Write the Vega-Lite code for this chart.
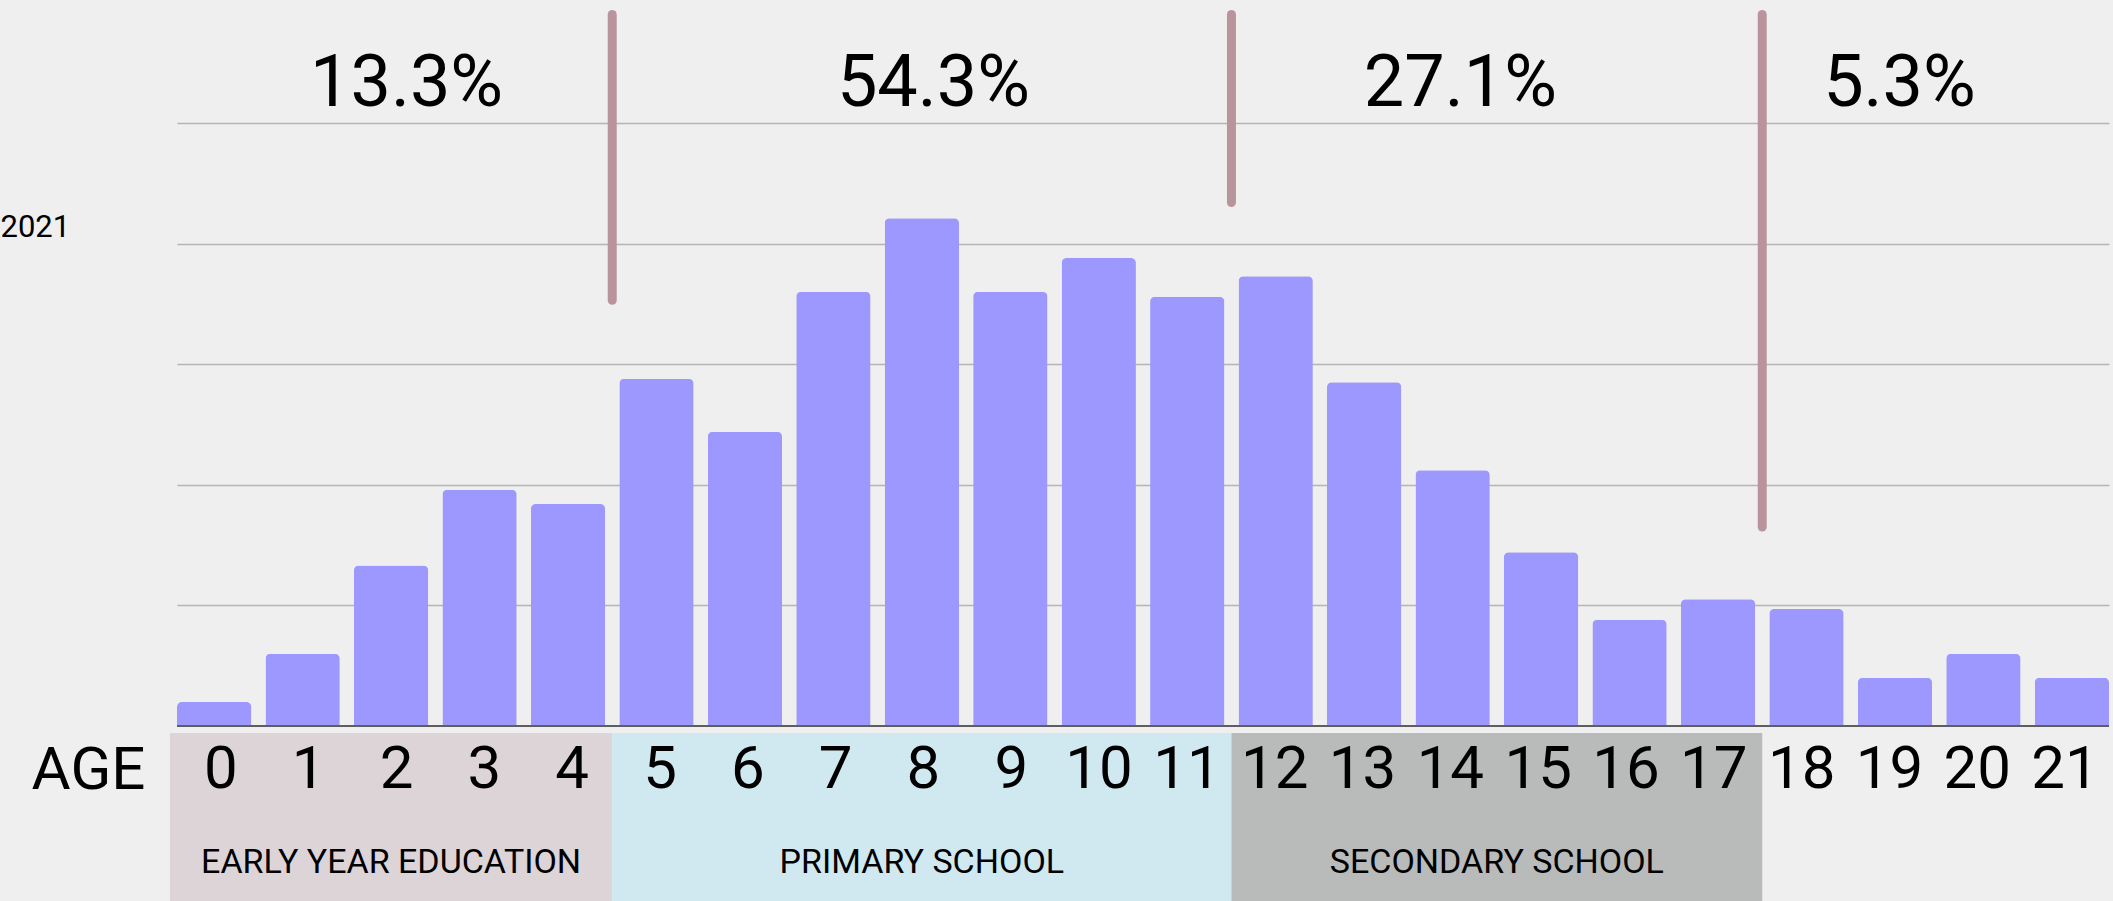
{
  "$schema": "https://vega.github.io/schema/vega-lite/v6.json",
  "background": "#efefef",
  "autosize": {"type": "pad"},
  "padding": {"left": 0, "top": 0, "right": 4, "bottom": 0},
  "spacing": 7,
  "bounds": "flush",
  "config": {"view": {"stroke": null}, "font": "Roboto"},
  "datasets": {
    "ages": [
      {"age": 0, "value": 2.0}, {"age": 1, "value": 6.0}, {"age": 2, "value": 13.3},
      {"age": 3, "value": 19.6}, {"age": 4, "value": 18.4}, {"age": 5, "value": 28.8},
      {"age": 6, "value": 24.4}, {"age": 7, "value": 36.0}, {"age": 8, "value": 42.1},
      {"age": 9, "value": 36.0}, {"age": 10, "value": 38.8}, {"age": 11, "value": 35.6},
      {"age": 12, "value": 37.3}, {"age": 13, "value": 28.5}, {"age": 14, "value": 21.2},
      {"age": 15, "value": 14.4}, {"age": 16, "value": 8.8}, {"age": 17, "value": 10.5},
      {"age": 18, "value": 9.7}, {"age": 19, "value": 4.0}, {"age": 20, "value": 6.0},
      {"age": 21, "value": 4.0}
    ],
    "stages": [
      {"stage": "early", "name": "EARLY YEAR EDUCATION", "pct": "13.3%", "from": 0, "to": 5, "labelAge": 2, "lineLow": 35.3},
      {"stage": "primary", "name": "PRIMARY SCHOOL", "pct": "54.3%", "from": 5, "to": 12, "labelAge": 8, "lineLow": 43.4},
      {"stage": "secondary", "name": "SECONDARY SCHOOL", "pct": "27.1%", "from": 12, "to": 18, "labelAge": 14, "lineLow": 16.5},
      {"stage": "adult", "name": null, "pct": "5.3%", "from": 18, "to": 22, "labelAge": 19, "lineLow": null}
    ]
  },
  "vconcat": [
    {
      "width": 1932,
      "height": 726,
      "layer": [
        {
          "data": {"name": "ages"},
          "mark": {"type": "bar", "color": "#9c98fd", "cornerRadiusTopLeft": 5, "cornerRadiusTopRight": 5},
          "encoding": {
            "x": {"field": "age", "type": "ordinal",
                  "scale": {"domain": [0,1,2,3,4,5,6,7,8,9,10,11,12,13,14,15,16,17,18,19,20,21], "paddingInner": 0.16, "paddingOuter": 0},
                  "axis": null},
            "y": {"field": "value", "type": "quantitative",
                  "scale": {"domain": [0, 60.2], "nice": false, "zero": true},
                  "axis": {"grid": true, "values": [10, 20, 30, 40, 50], "gridColor": "#b4b4b4", "gridWidth": 1.5,
                           "domain": false, "ticks": false, "labels": false,
                           "title": "2021", "titleAngle": 0, "titleX": -177, "titleY": 227, "titleAlign": "left",
                           "titleBaseline": "middle", "titleFontSize": 31, "titleFontWeight": "normal",
                           "titleFont": "Roboto", "titleColor": "#000000"}}
          }
        },
        {
          "data": {"values": [{"base": 0}]},
          "mark": {"type": "rule", "color": "#5e5e5e", "strokeWidth": 2},
          "encoding": {"y": {"field": "base", "type": "quantitative"}}
        },
        {
          "data": {"name": "stages"},
          "transform": [{"filter": "isValid(datum.lineLow)"}],
          "mark": {"type": "rule", "color": "#ba949c", "strokeWidth": 9, "strokeCap": "round"},
          "encoding": {
            "x": {"field": "to", "type": "quantitative", "scale": {"domain": [0.08, 21.92], "nice": false, "zero": false}, "axis": null},
            "y": {"field": "lineLow", "type": "quantitative"},
            "y2": {"datum": 59}
          }
        },
        {
          "data": {"name": "stages"},
          "mark": {"type": "text", "fontSize": 72, "baseline": "alphabetic", "align": "center", "dx": 10, "color": "#000000", "font": "Roboto"},
          "encoding": {
            "x": {"field": "labelAge", "type": "ordinal",
                  "scale": {"domain": [0,1,2,3,4,5,6,7,8,9,10,11,12,13,14,15,16,17,18,19,20,21], "paddingInner": 0.16, "paddingOuter": 0},
                  "axis": null},
            "y": {"datum": 51.4, "type": "quantitative"},
            "text": {"field": "pct"}
          }
        }
      ],
      "resolve": {"scale": {"x": "independent"}}
    },
    {
      "width": 1932,
      "height": 168,
      "layer": [
        {
          "data": {"name": "stages"},
          "transform": [{"filter": "isValid(datum.name)"}],
          "mark": {"type": "rect"},
          "encoding": {
            "x": {"field": "from", "type": "quantitative", "scale": {"domain": [0.08, 21.92], "nice": false, "zero": false}, "axis": null},
            "x2": {"field": "to"},
            "color": {"field": "stage", "type": "nominal",
                      "scale": {"domain": ["early", "primary", "secondary"], "range": ["#ddd4d8", "#d0e9f0", "#b8bbba"]},
                      "legend": null}
          }
        },
        {
          "data": {"name": "ages"},
          "mark": {"type": "text", "fontSize": 60, "baseline": "alphabetic", "dy": -28.7, "color": "#000000", "font": "Roboto"},
          "encoding": {
            "x": {"field": "age", "type": "ordinal",
                  "scale": {"domain": [0,1,2,3,4,5,6,7,8,9,10,11,12,13,14,15,16,17,18,19,20,21], "paddingInner": 0.16, "paddingOuter": 0},
                  "axis": {"orient": "top", "labels": false, "ticks": false, "domain": false, "grid": false,
                           "title": "AGE", "titleX": -89, "titleY": 55.3, "titleAlign": "center", "titleBaseline": "alphabetic",
                           "titleFontSize": 60, "titleFontWeight": "normal", "titleFont": "Roboto", "titleColor": "#000000", "titleAngle": 0}},
            "text": {"field": "age"}
          }
        },
        {
          "data": {"name": "stages"},
          "transform": [
            {"filter": "isValid(datum.name)"},
            {"fold": ["from", "to"], "as": ["edge", "pos"]},
            {"aggregate": [{"op": "mean", "field": "pos", "as": "mid"}], "groupby": ["stage", "name"]}
          ],
          "mark": {"type": "text", "fontSize": 34, "baseline": "alphabetic", "dy": 56, "color": "#000000", "font": "Roboto"},
          "encoding": {
            "x": {"field": "mid", "type": "quantitative", "scale": {"domain": [0.08, 21.92], "nice": false, "zero": false}, "axis": null},
            "text": {"field": "name"}
          }
        }
      ],
      "resolve": {"scale": {"x": "independent"}}
    }
  ]
}
